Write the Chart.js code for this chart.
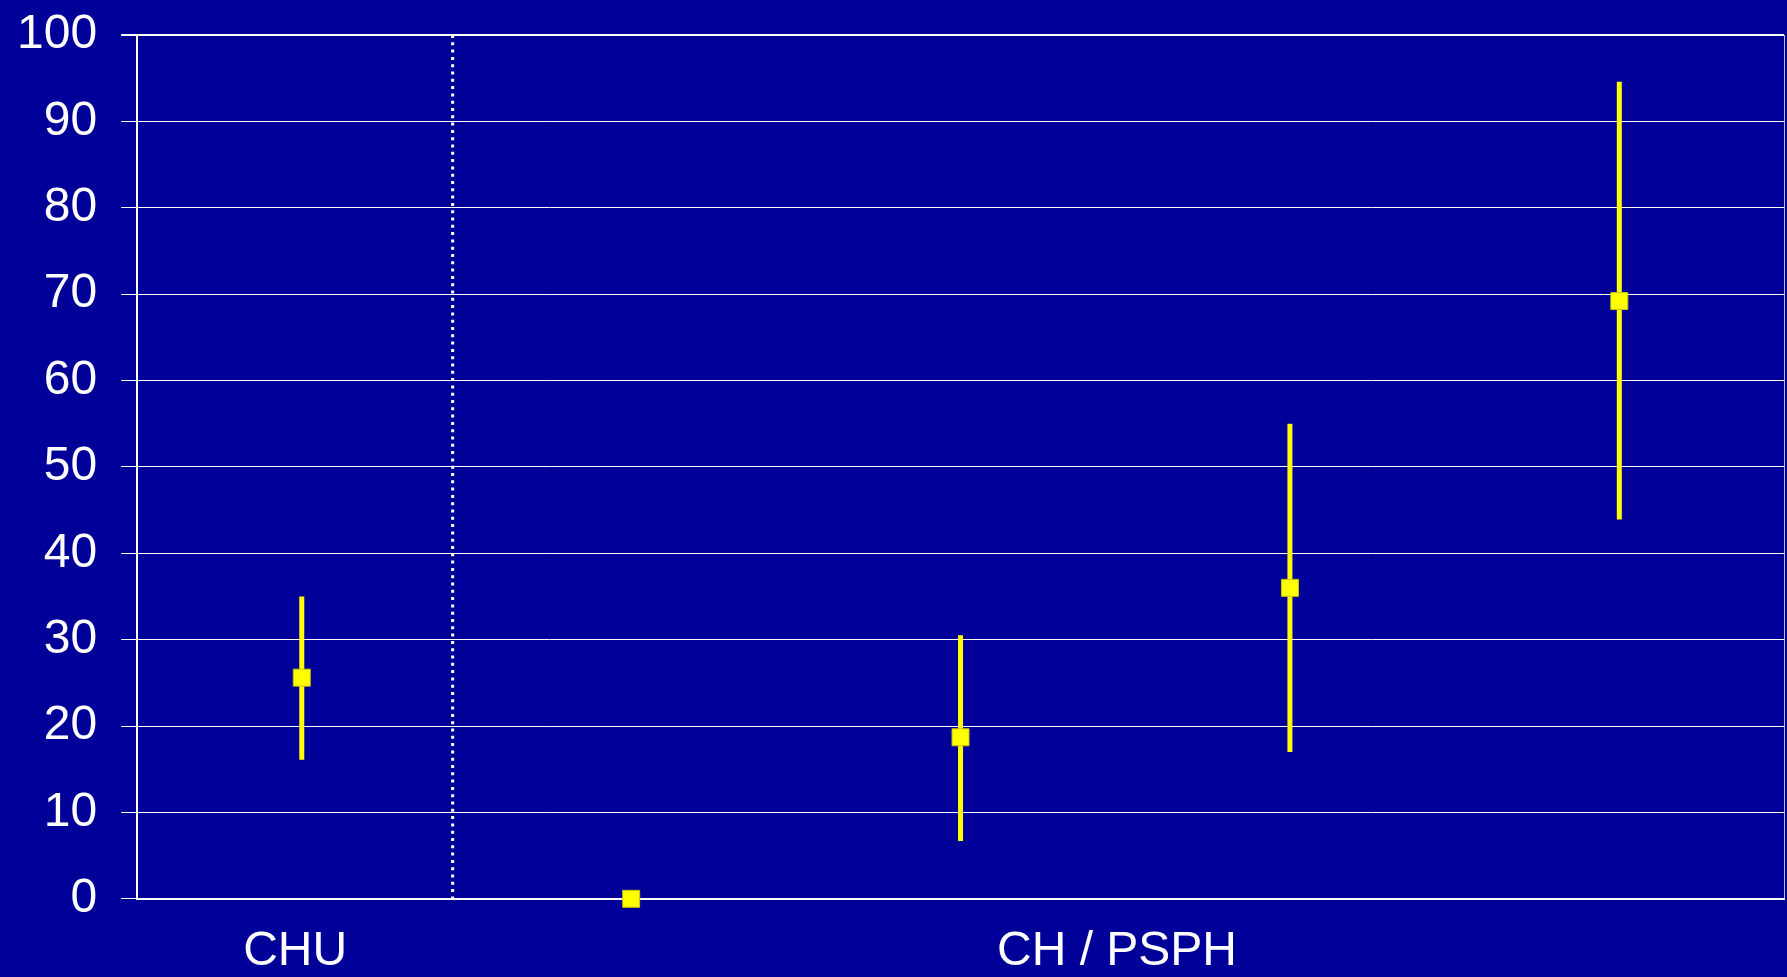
<!DOCTYPE html>
<html>
<head>
<meta charset="utf-8">
<script src="https://cdn.jsdelivr.net/npm/chart.js@4.4.1/dist/chart.umd.min.js"></script>
<style>
  html, body { margin: 0; padding: 0; background: #000099; }
  #wrap { width: 1787px; height: 977px; }
</style>
</head>
<body>
<div id="wrap"><canvas id="chart" width="1787" height="977"></canvas></div>
<script>
// --- data ---
const positions  = [0, 1, 2, 3, 4];
const means      = [25.6, 0, 18.7, 36.0, 69.2];
const lows       = [16.1, null, 6.7, 17.0, 43.9];
const highs      = [35.0, null, 30.5, 55.0, 94.6];

const groupLabels    = ['CHU', 'CH / PSPH'];
const groupPositions = [-0.02, 2.475];

const yTicks = [0, 10, 20, 30, 40, 50, 60, 70, 80, 90, 100];

// separator between CHU and the other hospitals
const separatorX = 0.458;
const separatorY = [100, -0.3];

const yellow = '#ffff00';
const labelFont = '"Liberation Sans", Arial, sans-serif';

// each error bar is a low->high segment, broken by a gap before the next one
const errorBars = [];
positions.forEach((x, i) => {
    if (lows[i] == null) return;
    errorBars.push({ x, y: lows[i] }, { x, y: highs[i] }, { x, y: null });
});

const meanPoints = positions.map((x, i) => ({ x, y: means[i] }));

new Chart(document.getElementById('chart'), {
    type: 'scatter',
    data: {
        datasets: [
            {
                type: 'line',
                data: separatorY.map(y => ({ x: separatorX, y })),
                borderColor: '#ffffff',
                borderWidth: 3,
                borderDash: [3, 4.3],
                pointRadius: 0,
                clip: false,
                order: 3
            },
            {
                type: 'line',
                data: errorBars,
                borderColor: yellow,
                borderWidth: 5,
                borderCapStyle: 'butt',
                spanGaps: false,
                pointRadius: 0,
                clip: false,
                order: 2
            },
            {
                type: 'scatter',
                data: meanPoints,
                pointStyle: 'rect',
                pointRadius: 12,
                pointHoverRadius: 12,
                backgroundColor: yellow,
                borderColor: '#c8c800',
                borderWidth: 1,
                clip: false,
                order: 1
            }
        ]
    },
    options: {
        responsive: false,
        animation: false,
        // chart.js counts tick padding twice when sizing axes, hence the negative paddings
        layout: { autoPadding: false, padding: { left: -7, top: 35, right: 3, bottom: -27 } },
        plugins: {
            legend: { display: false },
            tooltip: { enabled: false }
        },
        scales: {
            x: {
                type: 'linear',
                min: -0.5,
                max: 4.5,
                afterBuildTicks: scale => { scale.ticks = groupPositions.map(v => ({ value: v })); },
                grid: { display: false, drawTicks: false },
                border: { display: true, color: '#ffffff', width: 2 },
                ticks: {
                    autoSkip: false,
                    maxRotation: 0,
                    padding: 37,
                    color: '#ffffff',
                    font: { family: labelFont, size: 48, lineHeight: 0.65 },
                    callback: v => groupLabels[groupPositions.indexOf(v)]
                }
            },
            y: {
                min: 0,
                max: 100,
                afterBuildTicks: scale => { scale.ticks = yTicks.map(v => ({ value: v })); },
                grid: {
                    color: '#ffffff',
                    lineWidth: ctx => (ctx.tick && ctx.tick.value === 100 ? 2 : 1),
                    tickLength: 16,
                    tickColor: '#ffffff'
                },
                border: { display: true, color: '#ffffff', width: 2 },
                ticks: {
                    padding: 24,
                    color: '#ffffff',
                    font: { family: labelFont, size: 48, lineHeight: 0.45 }
                }
            },
            y2: {
                position: 'right',
                min: 0,
                max: 100,
                grid: { display: false, drawTicks: false },
                border: { display: true, color: '#c0c0c0', width: 1 },
                ticks: { display: false }
            }
        }
    }
});
</script>
</body>
</html>
